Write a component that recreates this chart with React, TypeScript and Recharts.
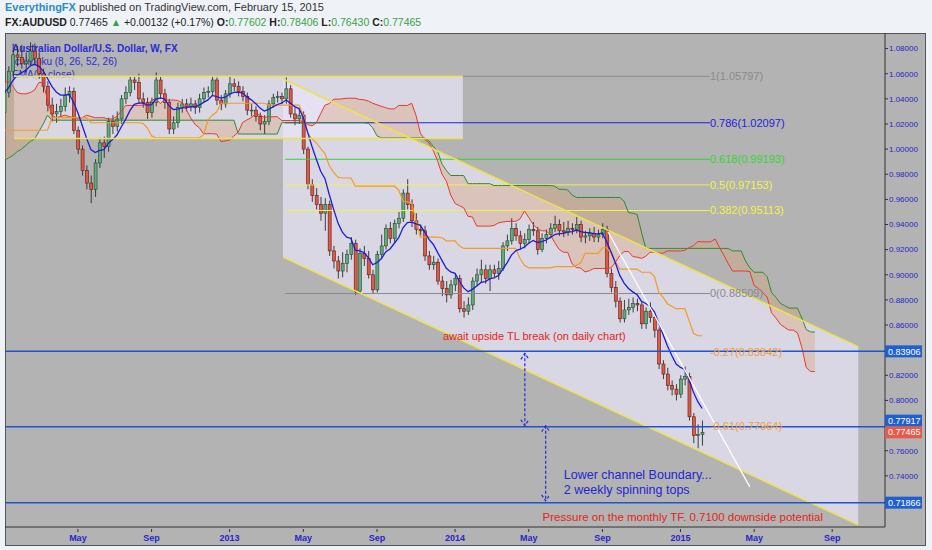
import {
  ComposedChart,
  Bar,
  Line,
  Area,
  XAxis,
  YAxis,
  ReferenceLine,
  ReferenceArea,
  ReferenceDot,
} from "recharts";

// weekly AUDUSD candles, week 0 = first week of Jan 2012 (open of week 0 below)
const firstOpen = 1.029;

const closes = [
  1.045, 1.062, 1.075, 1.073, 1.068, 1.07, 1.078, 1.072, 1.06, 1.05,
  1.035, 1.028, 1.03, 1.034, 1.043, 1.046, 1.015, 1.0, 0.983, 0.973,
  0.968, 0.989, 1.005, 1.002, 1.022, 1.018, 1.024, 1.04, 1.045, 1.055,
  1.053, 1.04, 1.037, 1.029, 1.037, 1.055, 1.044, 1.037, 1.016, 1.021,
  1.033, 1.036, 1.034, 1.036, 1.033, 1.04, 1.045, 1.046, 1.055, 1.039,
  1.036, 1.044, 1.052, 1.05, 1.046, 1.042, 1.031, 1.031, 1.026, 1.02,
  1.022, 1.036, 1.041, 1.042, 1.04, 1.048, 1.028, 1.024, 1.027, 1.0,
  0.972, 0.963, 0.956, 0.949, 0.956, 0.919, 0.911, 0.903, 0.909, 0.916,
  0.925, 0.887, 0.917, 0.913, 0.9, 0.888, 0.916, 0.923, 0.937, 0.929,
  0.941, 0.945, 0.965, 0.956, 0.943, 0.936, 0.935, 0.915, 0.908, 0.91,
  0.895, 0.889, 0.884, 0.892, 0.897, 0.873, 0.871, 0.876, 0.895, 0.9,
  0.904, 0.897, 0.904, 0.901, 0.905, 0.923, 0.927, 0.937, 0.931, 0.925,
  0.928, 0.936, 0.935, 0.92, 0.929, 0.932, 0.937, 0.94, 0.935, 0.934,
  0.937, 0.936, 0.94, 0.93, 0.931, 0.933, 0.93, 0.932, 0.936, 0.901,
  0.89, 0.879, 0.865, 0.872, 0.874, 0.877, 0.876, 0.861, 0.871, 0.866,
  0.856, 0.829, 0.821, 0.812, 0.809, 0.805, 0.817, 0.819, 0.787, 0.772,
  0.773, 0.77465,
];

const highs = [
  1.05, 1.066, 1.084, 1.082, 1.083, 1.077, 1.085, 1.084, 1.077, 1.064,
  1.054, 1.041, 1.036, 1.04, 1.049, 1.05, 1.049, 1.018, 1.003, 0.987,
  0.979, 0.992, 1.009, 1.01, 1.025, 1.027, 1.03, 1.043, 1.05, 1.058,
  1.058, 1.06, 1.045, 1.041, 1.041, 1.061, 1.058, 1.048, 1.04, 1.026,
  1.037, 1.04, 1.04, 1.041, 1.039, 1.044, 1.049, 1.05, 1.058, 1.057,
  1.043, 1.047, 1.058, 1.056, 1.054, 1.05, 1.045, 1.036, 1.034, 1.029,
  1.027, 1.039, 1.044, 1.046, 1.045, 1.057, 1.051, 1.033, 1.032, 1.03,
  1.002, 0.976, 0.969, 0.962, 0.961, 0.959, 0.923, 0.915, 0.918, 0.92,
  0.93, 0.928, 0.921, 0.923, 0.919, 0.904, 0.919, 0.932, 0.94, 0.942,
  0.944, 0.95, 0.968, 0.976, 0.96, 0.949, 0.94, 0.939, 0.919, 0.915,
  0.913, 0.899, 0.895, 0.896, 0.901, 0.9, 0.879, 0.882, 0.898, 0.905,
  0.912, 0.908, 0.908, 0.908, 0.911, 0.926, 0.932, 0.945, 0.941, 0.935,
  0.933, 0.94, 0.942, 0.938, 0.933, 0.936, 0.941, 0.947, 0.944, 0.942,
  0.943, 0.941, 0.946, 0.943, 0.935, 0.937, 0.938, 0.936, 0.941, 0.939,
  0.905, 0.895, 0.882, 0.88, 0.881, 0.882, 0.881, 0.879, 0.874, 0.878,
  0.869, 0.858, 0.832, 0.826, 0.816, 0.813, 0.82, 0.827, 0.822, 0.79,
  0.781, 0.784,
];

const lows = [
  1.025, 1.041, 1.058, 1.066, 1.064, 1.061, 1.066, 1.068, 1.056, 1.045,
  1.03, 1.022, 1.021, 1.026, 1.03, 1.037, 1.012, 0.996, 0.979, 0.968,
  0.957, 0.962, 0.985, 0.993, 0.998, 1.012, 1.014, 1.02, 1.036, 1.042,
  1.047, 1.036, 1.033, 1.024, 1.025, 1.034, 1.04, 1.032, 1.012, 1.012,
  1.017, 1.029, 1.03, 1.03, 1.028, 1.029, 1.037, 1.041, 1.043, 1.035,
  1.031, 1.033, 1.041, 1.046, 1.042, 1.038, 1.027, 1.026, 1.022, 1.015,
  1.012, 1.019, 1.033, 1.037, 1.036, 1.036, 1.025, 1.019, 1.02, 0.996,
  0.968, 0.958, 0.952, 0.943, 0.935, 0.915, 0.905, 0.897, 0.898, 0.902,
  0.912, 0.884, 0.885, 0.907, 0.897, 0.885, 0.886, 0.913, 0.92, 0.925,
  0.926, 0.937, 0.942, 0.952, 0.938, 0.932, 0.931, 0.911, 0.904, 0.904,
  0.892, 0.883, 0.878, 0.881, 0.887, 0.87, 0.866, 0.868, 0.872, 0.891,
  0.894, 0.893, 0.887, 0.897, 0.896, 0.903, 0.919, 0.924, 0.927, 0.92,
  0.921, 0.925, 0.931, 0.916, 0.918, 0.925, 0.929, 0.934, 0.931, 0.93,
  0.931, 0.932, 0.933, 0.926, 0.925, 0.927, 0.926, 0.926, 0.929, 0.898,
  0.886, 0.874, 0.862, 0.862, 0.868, 0.87, 0.871, 0.857, 0.857, 0.862,
  0.85, 0.825, 0.817, 0.808, 0.804, 0.8, 0.802, 0.812, 0.784, 0.766,
  0.762, 0.764,
];

// ichimoku values read off the chart where the 2011 history they need is not shown
const kijunEarly = [
  1.015, 1.015, 1.015, 1.015, 1.015, 1.015, 1.015, 1.015, 1.015, 1.015,
  1.015, 1.025, 1.025, 1.025, 1.025, 1.025, 1.025, 1.025, 1.025, 1.025,
  1.021, 1.021, 1.021, 1.021, 1.021,
];
const spanAEarly = [
  1.053, 1.054, 1.05, 1.045, 1.044, 1.044, 1.045, 1.047, 1.053, 1.053,
  1.039, 1.027, 1.025, 1.026, 1.027, 1.026, 1.025, 1.024, 1.025, 1.027,
  1.026, 1.025, 1.025, 1.025, 1.024, 1.024,
];
const spanBEarly = [
  0.991, 0.993, 0.995, 0.998, 1.0, 1.003, 1.006, 1.008, 1.014, 1.02,
  1.027, 1.023, 1.023, 1.023, 1.023, 1.023, 1.023, 1.023, 1.023, 1.023,
  1.023, 1.023, 1.023, 1.023, 1.023, 1.023, 1.023, 1.023, 1.023, 1.023,
  1.023, 1.023, 1.023, 1.023, 1.023, 1.023, 1.023, 1.023, 1.023, 1.023,
  1.023, 1.023, 1.023, 1.023, 1.023, 1.023, 1.023, 1.023, 1.023, 1.023,
  1.023, 1.023, 1.023, 1.023, 1.012, 1.012, 1.012, 1.012, 1.012, 1.012,
  1.012, 1.012, 1.012, 1.012, 1.021, 1.021, 1.021, 1.021, 1.021, 1.021,
  1.021, 1.021, 1.021, 1.021, 1.021, 1.021, 1.021, 1.021,
];

const xTickIdx = [17, 34, 52, 69, 86, 104, 121, 138, 156, 173, 191];
const xTickLabels = ["May", "Sep", "2013", "May", "Sep", "2014", "May", "Sep", "2015", "May", "Sep"];

const priceTicks = [1.08, 1.06, 1.04, 1.02, 1.0, 0.98, 0.96, 0.94, 0.92, 0.9, 0.88, 0.86, 0.82, 0.8, 0.76, 0.74];
const levelPrices = [0.83906, 0.77917, 0.71866];
const lastPrice = 0.77465;

// fib retracement drawn from the 2013 high
const fibValues = [1.05797, 1.02097, 0.99193, 0.97153, 0.95113, 0.88509];
const fibLabels = ["1(1.05797)", "0.786(1.02097)", "0.618(0.99193)", "0.5(0.97153)", "0.382(0.95113)", "0(0.88509)"];
const fibStart = 64.8;
const fibEnd = 162.8;
const fib2Values = [0.83842, 0.77964];
const fib2Labels = ["-0.27(0.83842)", "-0.61(0.77964)"];

// range box 2012-2013 and falling channel (week index, price)
const boxRange = { x1: 2.3, x2: 105.8, top: 1.05797, bottom: 1.0084 };
const channelUpper = [{ x: 64.3, y: 1.0558 }, { x: 197, y: 0.8428 }];
const channelLower = [{ x: 64.3, y: 0.914 }, { x: 197, y: 0.701 }];
const whiteTrend = [{ x: 139.3, y: 0.9341 }, { x: 172, y: 0.7312 }];
const arrows = [
  [{ x: 120.1, y: 0.8375 }, { x: 120.1, y: 0.7799 }],
  [{ x: 124.9, y: 0.7799 }, { x: 124.9, y: 0.7201 }],
];

const fibColors = ["#8a8a8a", "#2222dd", "#33d433", "#f2f24a", "#f2f24a", "#8a8a8a"];

// ---- derived rows ----
function mid(from: number, to: number) {
  let hh = -Infinity;
  let ll = Infinity;
  for (let k = Math.max(0, from); k <= to; k++) {
    if (highs[k] > hh) hh = highs[k];
    if (lows[k] < ll) ll = lows[k];
  }
  return (hh + ll) / 2;
}

const n = closes.length;
const tenkan: number[] = [];
const kijun: number[] = [];
const ema: number[] = [];
for (let i = 0; i < n; i++) {
  tenkan.push(mid(i - 7, i));
  kijun.push(i < kijunEarly.length ? kijunEarly[i] : mid(i - 25, i));
  ema.push(i === 0 ? closes[0] : ema[i - 1] + (2 / 9) * (closes[i] - ema[i - 1]));
}

type Row = {
  i: number;
  o?: number;
  h?: number;
  l?: number;
  c?: number;
  ema?: number;
  kijun?: number;
  sa?: number;
  sb?: number;
};

const rows: Row[] = [];
for (let i = 0; i < n + 26; i++) {
  const r: Row = { i };
  if (i < n) {
    r.o = i === 0 ? firstOpen : closes[i - 1];
    r.h = highs[i];
    r.l = lows[i];
    r.c = closes[i];
    r.ema = ema[i];
    r.kijun = kijun[i];
  }
  r.sa = i < spanAEarly.length ? spanAEarly[i] : (tenkan[i - 26] + kijun[i - 26]) / 2;
  r.sb = i < spanBEarly.length ? spanBEarly[i] : mid(i - 77, i - 26);
  rows.push(r);
}

const FONT = "'Liberation Sans', Arial, sans-serif";

function Candle(props: any) {
  const { x, width, payload } = props;
  let { y, height } = props;
  if (payload.c == null) return null;
  if (height < 0) {
    y += height;
    height = -height;
  }
  const { o, h, l, c } = payload;
  const up = c >= o;
  const k = h - l > 0 ? height / (h - l) : 0;
  const top = y + (h - Math.max(o, c)) * k;
  const bot = y + (h - Math.min(o, c)) * k;
  const cx = x + width / 2;
  return (
    <g>
      <line x1={cx} x2={cx} y1={y} y2={y + height} stroke="#2b2b2b" strokeWidth={0.9} />
      <rect
        x={x}
        y={top}
        width={width}
        height={Math.max(0.8, bot - top)}
        fill={up ? "#63a97c" : "#dd5a45"}
        stroke={up ? "#1f4d2e" : "#5a1a12"}
        strokeWidth={0.6}
      />
    </g>
  );
}

function PriceTick(props: any) {
  const { x, y, payload } = props;
  const v = payload.value as number;
  const label = v.toFixed(5);
  if (v === lastPrice || levelPrices.includes(v)) {
    const ty = v === 0.77917 ? y - 6 : y;
    const bg = v === lastPrice ? "#e45a4b" : "#1e5fd2";
    return (
      <g>
        <rect x={x} y={ty - 6} width={37} height={12} fill={bg} />
        <text x={x + 3} y={ty} dy="0.35em" fill="#fff" fontSize={9} fontFamily={FONT}>
          {label}
        </text>
      </g>
    );
  }
  return (
    <g>
      <line x1={x} x2={x + 3} y1={y} y2={y} stroke="#333" />
      <text x={x + 4} y={y} dy="0.35em" fill="#2626c8" fontSize={8} fontFamily={FONT}>
        {label}
      </text>
    </g>
  );
}

function TimeTick(props: any) {
  const { x, y, payload } = props;
  const idx = xTickIdx.indexOf(payload.value);
  return (
    <g>
      <line x1={x} x2={x} y1={y} y2={y + 3} stroke="#333" />
      <text x={x} y={y + 9} dy="0.35em" textAnchor="middle" fill="#2626c8" fontSize={9} fontWeight={600} fontFamily={FONT}>
        {xTickLabels[idx]}
      </text>
    </g>
  );
}

function ChannelShape(props: any) {
  const { x, y, width, height } = props;
  const span = channelUpper[0].y - channelLower[1].y;
  const f = (v: number) => y + ((channelUpper[0].y - v) / span) * height;
  const pts = [
    [x, f(channelUpper[0].y)],
    [x + width, f(channelUpper[1].y)],
    [x + width, f(channelLower[1].y)],
    [x, f(channelLower[0].y)],
  ];
  return <polygon points={pts.map((p) => p.join(",")).join(" ")} fill="#e7e4f6" fillOpacity={0.72} />;
}

function Arrow(props: any) {
  const { x1, y1, x2, y2 } = props;
  const top = Math.min(y1, y2);
  const bot = Math.max(y1, y2);
  const cx = x1;
  const col = "#2a2ad2";
  return (
    <g stroke={col} strokeWidth={1.2} fill="none" strokeDasharray="3 2">
      <line x1={cx} x2={x2} y1={top} y2={bot} />
      <polyline points={`${cx - 4},${top + 6} ${cx},${top} ${cx + 4},${top + 6}`} />
      <polyline points={`${cx - 4},${bot - 6} ${cx},${bot} ${cx + 4},${bot - 6}`} />
    </g>
  );
}

function note(text: string, color: string, size: number) {
  return (p: any) => (
    <text x={p.cx} y={p.cy} dy="0.35em" fill={color} fontSize={size} fontFamily={FONT}>
      {text}
    </text>
  );
}

export default function App() {
  return (
    <div style={{ position: "fixed", left: 0, top: 0, width: 932, height: 550, background: "#eff2f7", fontFamily: FONT }}>
      <div style={{ position: "absolute", left: 5, top: 1, fontSize: 11, color: "#333", whiteSpace: "nowrap" }}>
        <span style={{ color: "#2a8cc4", fontWeight: 600 }}>EverythingFX</span> published on TradingView.com, February 15, 2015
      </div>
      <div style={{ position: "absolute", left: 5, top: 16, fontSize: 10.5, color: "#222", whiteSpace: "nowrap" }}>
        <b>FX:AUDUSD</b> 0.77465 <span style={{ color: "#3aa14a" }}>▲</span> +0.00132 (+0.17%) <b>O:</b>
        <span style={{ color: "#3aa14a" }}>0.77602</span> <b>H:</b>
        <span style={{ color: "#3aa14a" }}>0.78406</span> <b>L:</b>
        <span style={{ color: "#3aa14a" }}>0.76430</span> <b>C:</b>
        <span style={{ color: "#3aa14a" }}>0.77465</span>
      </div>
      <div
        style={{
          position: "absolute",
          left: 5,
          top: 33,
          width: 921,
          height: 513,
          background: "#b3b3b3",
          border: "1px solid #555",
          boxSizing: "border-box",
        }}
      />
      <div style={{ position: "absolute", left: 12, top: 42, fontSize: 10, color: "#2b2bd6", lineHeight: "13px" }}>
        <div style={{ fontWeight: 700 }}>Australian Dollar/U.S. Dollar, W, FX</div>
        <div>Ichimoku (8, 26, 52, 26)</div>
        <div>EMA(8, close)</div>
      </div>
      <div style={{ position: "absolute", left: 0, top: 0 }}>
        <ComposedChart width={932} height={550} data={rows} margin={{ top: 33, right: 7, bottom: 5, left: 5 }}>
          <XAxis
            dataKey="i"
            type="number"
            domain={[0.185, 203.18]}
            allowDataOverflow
            ticks={xTickIdx}
            interval={0}
            tick={<TimeTick />}
            tickLine={false}
            tickSize={0}
            height={18}
            axisLine={{ stroke: "#333" }}
          />
          <YAxis
            orientation="right"
            type="number"
            domain={[0.6993, 1.0924]}
            allowDataOverflow
            ticks={[...priceTicks, ...levelPrices, lastPrice]}
            interval={0}
            tick={<PriceTick />}
            tickLine={false}
            tickSize={0}
            tickMargin={0}
            width={40}
            axisLine={{ stroke: "#333" }}
          />

          <ReferenceArea
            x1={boxRange.x1}
            x2={boxRange.x2}
            y1={boxRange.bottom}
            y2={boxRange.top}
            fill="#e7e4f6"
            fillOpacity={0.72}
            stroke="none"
            ifOverflow="visible"
          />
          <ReferenceArea
            x1={channelUpper[0].x}
            x2={channelUpper[1].x}
            y1={channelLower[1].y}
            y2={channelUpper[0].y}
            ifOverflow="visible"
            shape={<ChannelShape />}
          />

          {fibValues.map((v, k) => (
            <ReferenceLine
              key={"fib" + k}
              segment={[{ x: fibStart, y: v }, { x: fibEnd, y: v }]}
              stroke={fibColors[k]}
              strokeWidth={1}
              ifOverflow="visible"
            />
          ))}

          <Area
            dataKey={(r: Row) => (r.sa == null ? null : [r.sa, r.sb])}
            stroke="none"
            fill="#d9a27a"
            fillOpacity={0.38}
            isAnimationActive={false}
          />
          <Line dataKey="sb" stroke="#2f8a2f" strokeWidth={1} dot={false} isAnimationActive={false} />
          <Line dataKey="sa" stroke="#e8392b" strokeWidth={1} dot={false} isAnimationActive={false} />
          <Line dataKey="kijun" stroke="#f59a28" strokeWidth={1.2} dot={false} isAnimationActive={false} />
          <Line dataKey="ema" stroke="#1d1dd6" strokeWidth={1.3} dot={false} isAnimationActive={false} />

          <Bar
            dataKey={(r: Row) => (r.c == null ? null : [r.l, r.h])}
            barSize={3}
            shape={<Candle />}
            isAnimationActive={false}
          />

          <ReferenceLine segment={[{ x: boxRange.x1, y: boxRange.top }, { x: boxRange.x2, y: boxRange.top }]} stroke="#eee24a" strokeWidth={1.5} ifOverflow="visible" />
          <ReferenceLine segment={[{ x: boxRange.x1, y: boxRange.bottom }, { x: boxRange.x2, y: boxRange.bottom }]} stroke="#eee24a" strokeWidth={1.5} ifOverflow="visible" />
          <ReferenceLine segment={channelUpper} stroke="#eee24a" strokeWidth={1.5} ifOverflow="visible" />
          <ReferenceLine segment={channelLower} stroke="#eee24a" strokeWidth={1.5} ifOverflow="visible" />
          <ReferenceLine segment={whiteTrend} stroke="#ffffff" strokeWidth={1.2} ifOverflow="visible" />

          {levelPrices.map((v) => (
            <ReferenceLine key={"lvl" + v} y={v} stroke="#1e55cc" strokeWidth={1.5} />
          ))}

          {arrows.map((seg, k) => (
            <ReferenceLine key={"arr" + k} segment={seg} ifOverflow="visible" shape={(p: any) => <Arrow {...p} />} />
          ))}

          {fibValues.map((v, k) => (
            <ReferenceDot key={"fl" + k} x={fibEnd} y={v} r={0} shape={note(fibLabels[k], fibColors[k], 11)} />
          ))}
          {fib2Values.map((v, k) => (
            <ReferenceDot key={"f2" + k} x={fibEnd} y={v} r={0} shape={note(fib2Labels[k], "#f0a038", 11)} />
          ))}

          <ReferenceDot x={101.2} y={0.8514} r={0} shape={note("await upside TL break (on daily chart)", "#e5231c", 11)} />
          <ReferenceDot x={129.1} y={0.7408} r={0} shape={note("Lower channel Boundary...", "#2424d4", 12.5)} />
          <ReferenceDot x={129.1} y={0.7290} r={0} shape={note("2 weekly spinning tops", "#2424d4", 12.5)} />
          <ReferenceDot x={124.2} y={0.7071} r={0} shape={note("Pressure on the monthly TF. 0.7100 downside potential", "#e5231c", 11.5)} />
        </ComposedChart>
      </div>
    </div>
  );
}
